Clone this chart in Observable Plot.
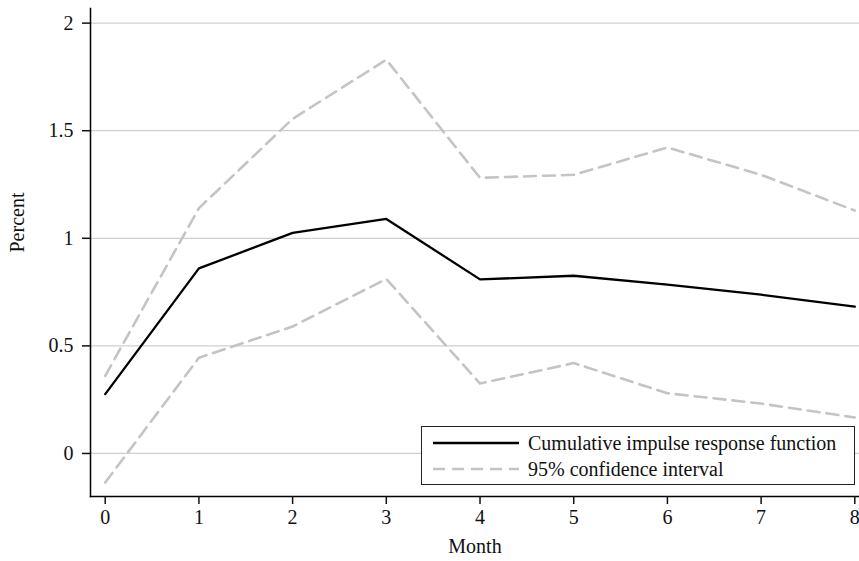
<!DOCTYPE html>
<html>
<head>
<meta charset="utf-8">
<script src="https://cdn.jsdelivr.net/npm/d3@7"></script>
<script src="https://cdn.jsdelivr.net/npm/@observablehq/plot@0.6"></script>
<style>
  html, body { margin: 0; padding: 0; background: #fff; font-family: 'Liberation Serif', serif; }
  #wrap { position: relative; width: 859px; height: 561px; font-family: 'Liberation Serif', serif; }
  #wrap svg text { font-family: 'Liberation Serif', serif; }
  #legend { position: absolute; left: 421px; top: 426px; width: 434px; height: 59px; border: 1px solid #222; background: #fff; box-sizing: border-box; font-size: 20px; color: #111; font-family: 'Liberation Serif', serif; }
  .row { position: absolute; left: 10px; display: flex; align-items: center; }
  .row svg { margin-right: 8px; }
</style>
</head>
<body>
<div id="wrap"></div>
<script>
const months = [0, 1, 2, 3, 4, 5, 6, 7, 8];
const irf   = [0.276, 0.86, 1.025, 1.090, 0.809, 0.826, 0.785, 0.738, 0.682];
const upper = [0.361, 1.14, 1.555, 1.830, 1.281, 1.295, 1.422, 1.295, 1.129];
const lower = [-0.135, 0.445, 0.59, 0.811, 0.325, 0.42, 0.28, 0.232, 0.167];
const yTicks = [0, 0.5, 1, 1.5, 2];
const seriesLabels = ["Cumulative impulse response function", "95% confidence interval"];

const irfData = months.map((m, i) => ({month: m, value: irf[i]}));
const upData = months.map((m, i) => ({month: m, value: upper[i]}));
const loData = months.map((m, i) => ({month: m, value: lower[i]}));

const chart = Plot.plot({
  width: 859,
  height: 561,
  marginLeft: 90,
  marginRight: 0,
  marginTop: 8,
  marginBottom: 65,
  style: {fontFamily: "'Liberation Serif', serif", fontSize: "20px", color: "#111", background: "#fff"},
  x: {domain: [-0.157, 8.05]},
  y: {domain: [-0.2, 2.068]},
  marks: [
    Plot.gridY(yTicks, {stroke: "#cfcfcf", strokeOpacity: 1, strokeWidth: 1.3}),
    Plot.line(upData, {x: "month", y: "value", stroke: "#c4c4c4", strokeWidth: 2.6, strokeDasharray: "12,7"}),
    Plot.line(loData, {x: "month", y: "value", stroke: "#c4c4c4", strokeWidth: 2.6, strokeDasharray: "12,7"}),
    Plot.line(irfData, {x: "month", y: "value", stroke: "#000", strokeWidth: 2.3}),
    Plot.frame({anchor: "left", stroke: "#000", strokeWidth: 1.5}),
    Plot.frame({anchor: "bottom", stroke: "#000", strokeWidth: 1.5}),
    Plot.axisY(yTicks, {tickSize: 8, tickPadding: 9, tickFormat: d => String(d), label: null, fontSize: 20, strokeWidth: 1.5}),
    Plot.axisX(months, {tickSize: 8, tickFormat: () => "", label: null, strokeWidth: 1.5}),
    Plot.text(months, {x: d => d, text: d => String(d), frameAnchor: "bottom", dy: 27, fontSize: 20, fill: "#111"}),
    Plot.text(["Month"], {frameAnchor: "bottom", dy: 56, fontSize: 20, fill: "#111"}),
    Plot.text(["Percent"], {frameAnchor: "left", dx: -73, rotate: -90, fontSize: 20, fill: "#111"})
  ]
});

const wrap = document.getElementById("wrap");
wrap.appendChild(chart);

const legend = document.createElement("div");
legend.id = "legend";
legend.innerHTML = `
  <div class="row" style="top:4px"><svg width="88" height="24"><line x1="1" y1="12" x2="87" y2="12" stroke="#000" stroke-width="2.3"/></svg><span>${seriesLabels[0]}</span></div>
  <div class="row" style="top:30px"><svg width="88" height="24"><line x1="1" y1="12" x2="87" y2="12" stroke="#c4c4c4" stroke-width="2.6" stroke-dasharray="12,7"/></svg><span>${seriesLabels[1]}</span></div>`;
wrap.appendChild(legend);
</script>
</body>
</html>
